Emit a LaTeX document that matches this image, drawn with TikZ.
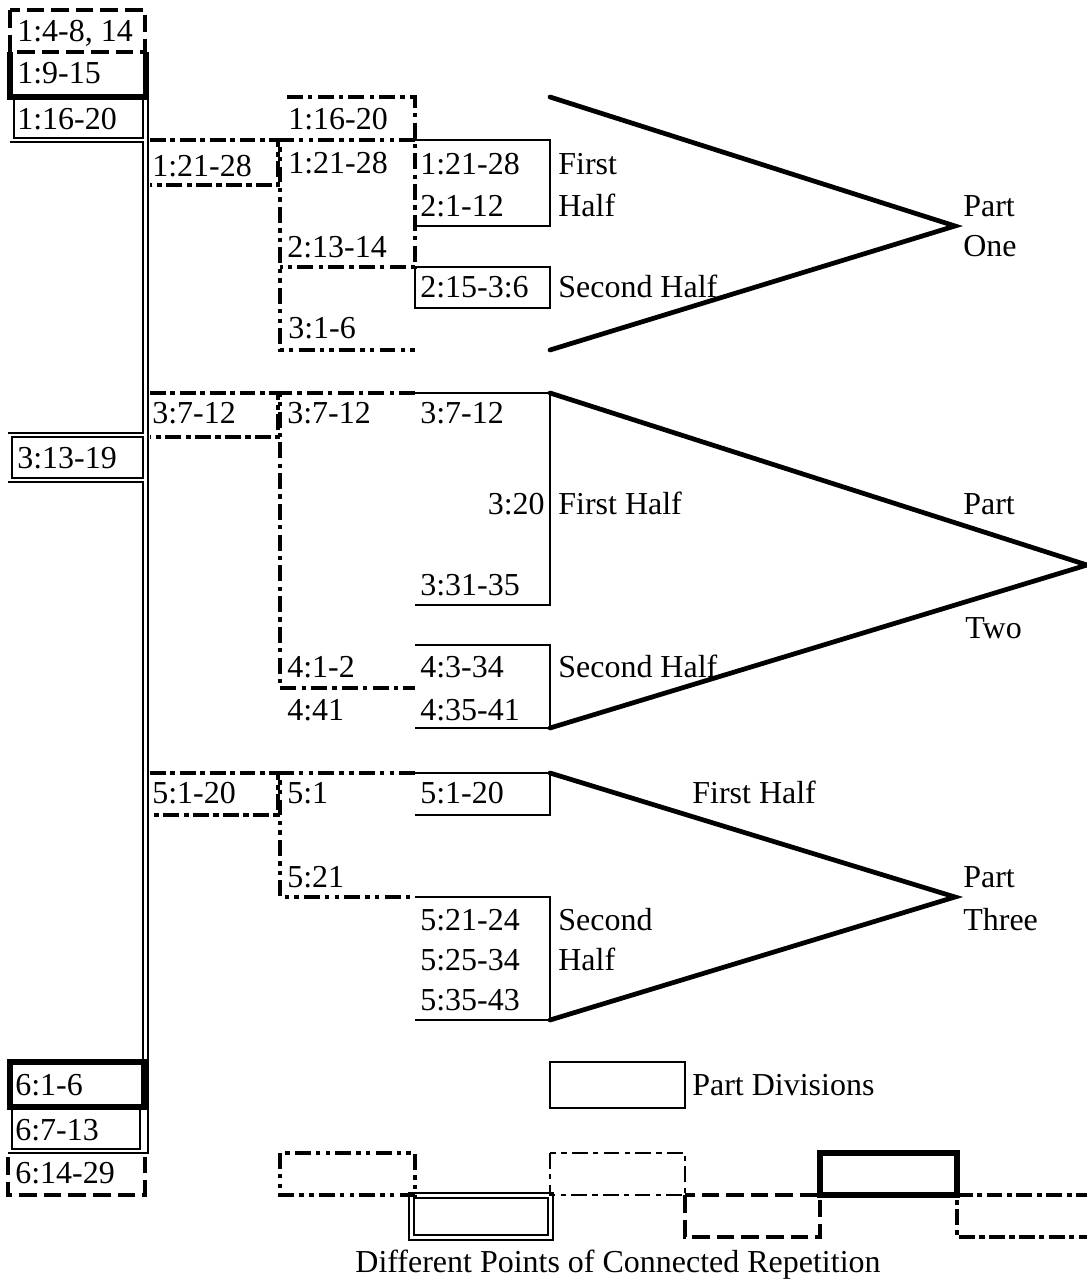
\documentclass[tikz,border=0pt]{standalone}
\usepackage{fontspec}
\setmainfont{Liberation Serif}
\usetikzlibrary{calc}
\newcommand{\versefont}{\fontsize{18.2pt}{21pt}\selectfont}
\tikzset{
  versetext/.style={font=\versefont, inner sep=0pt, anchor=base west},
  partline/.style={line width=1.1pt},
  doubleline/.style={line width=0.7pt},
  heavybox/.style={line width=3.4pt},
  conearm/.style={line width=2.7pt, line cap=round},
  dashbox/.style={line width=2.1pt, dash pattern=on 10pt off 4pt},
  slantdash/.style={line width=2.4pt, dash pattern=on 9pt off 2.5pt on 3pt off 2.5pt},
  dashdotheavy/.style={line width=2pt, dash pattern=on 9pt off 3pt on 2.5pt off 3pt},
  dashdotdot/.style={line width=2.2pt, dash pattern=on 9pt off 3pt on 2.5pt off 3pt on 2.5pt off 3pt},
  dashdotthin/.style={line width=0.9pt, dash pattern=on 9pt off 3pt on 3pt off 3pt},
}

\begin{document}
\begin{tikzpicture}[x=0.02cm, y=-0.02cm, line join=miter]
  \useasboundingbox (0,0) rectangle (1087,1283);

  % left column and double spine
  \draw[dashbox] (10,10) rectangle (145,52);
  \draw[heavybox] (10,52) -- (10,97) -- (146,97) -- (146,52);
  \draw[partline] (14,97) rectangle (143,138);
  \draw[doubleline] (10,142) -- (143,142) -- (143,433) -- (8,433);
  \draw[partline] (12,437) rectangle (143,478);
  \draw[doubleline] (8,482) -- (143,482) -- (143,1062);
  \draw[doubleline] (148,97) -- (148,1153) -- (8,1153);
  \draw[heavybox] (10,1062) rectangle (144,1107);
  \draw[partline] (12,1108) rectangle (140,1149);
  \draw[dashbox] (8,1157) -- (8,1195) -- (145,1195) -- (145,1157);

  \node[versetext] (v1a) at (17,42) {1:4-8, 14};
  \node[versetext] (v1b) at (17,84) {1:9-15};
  \node[versetext] (v1c) at (17,130) {1:16-20};
  \node[versetext] (v3a) at (17,468) {3:13-19};
  \node[versetext] (v6a) at (15,1095) {6:1-6};
  \node[versetext] (v6b) at (15,1140) {6:7-13};
  \node[versetext] (v6c) at (15,1183) {6:14-29};

  % part one
  \coordinate (p1top) at (550,97);
  \coordinate (p1apex) at (955,226);
  \coordinate (p1bot) at (550,350);
  \draw[slantdash] (150,140) -- (278,140) -- (278,185) -- (150,185);
  \draw[dashdotheavy] (287,97) -- (415,97) -- (415,267) -- (280,267);
  \draw[dashdotdot] (415,140) -- (280,140) -- (280,350) -- (415,350);
  \draw[partline] (415,140) -- (550,140) -- (550,226) -- (415,226);
  \draw[partline] (415,267) rectangle (550,308);
  \draw[conearm] (p1top) -- (p1apex) -- (p1bot);

  \node[versetext] (a1) at (152,177) {1:21-28};
  \node[versetext] (b1) at (288,130) {1:16-20};
  \node[versetext] (b2) at (288,174) {1:21-28};
  \node[versetext] (b3) at (287,258) {2:13-14};
  \node[versetext] (b4) at (288,338) {3:1-6};
  \node[versetext] (c1) at (420,175) {1:21-28};
  \node[versetext] (c2) at (420,217) {2:1-12};
  \node[versetext] (c3) at (420,298) {2:15-3:6};
  \node[versetext] (h1) at (558,175) {First};
  \node[versetext] (h2) at (558,217) {Half};
  \node[versetext] (h3) at (558,298) {Second Half};
  \node[versetext] (part1a) at (963,217) {Part};
  \node[versetext] (part1b) at (963,257) {One};

  % part two
  \coordinate (p2top) at (550,393);
  \coordinate (p2apex) at (1087,565);
  \coordinate (p2bot) at (550,728);
  \draw[slantdash] (150,393) -- (278,393) -- (278,437) -- (150,437);
  \draw[dashdotheavy] (415,393) -- (280,393) -- (280,688) -- (415,688);
  \draw[partline] (415,393) -- (550,393) -- (550,605) -- (415,605);
  \draw[partline] (415,645) -- (550,645) -- (550,728) -- (415,728);
  \draw[conearm] (p2top) -- (p2apex) -- (p2bot);

  \node[versetext] (a2) at (152,423) {3:7-12};
  \node[versetext] (d1) at (287,423) {3:7-12};
  \node[versetext] (d2) at (287,677) {4:1-2};
  \node[versetext] (d3) at (287,720) {4:41};
  \node[versetext] (e1) at (420,423) {3:7-12};
  \node[versetext, anchor=base east] (e2) at (545,514) {3:20};
  \node[versetext] (e3) at (420,595) {3:31-35};
  \node[versetext] (e4) at (420,677) {4:3-34};
  \node[versetext] (e5) at (420,720) {4:35-41};
  \node[versetext] (h4) at (558,514) {First Half};
  \node[versetext] (h5) at (558,677) {Second Half};
  \node[versetext] (part2a) at (963,514) {Part};
  \node[versetext] (part2b) at (965,638) {Two};

  % part three
  \coordinate (p3top) at (550,773);
  \coordinate (p3apex) at (955,897);
  \coordinate (p3bot) at (550,1020);
  \draw[slantdash] (150,773) -- (278,773) -- (278,815) -- (150,815);
  \draw[dashdotdot] (415,773) -- (280,773) -- (280,897) -- (415,897);
  \draw[partline] (415,773) -- (550,773) -- (550,815) -- (415,815);
  \draw[partline] (415,897) -- (550,897) -- (550,1020) -- (415,1020);
  \draw[conearm] (p3top) -- (p3apex) -- (p3bot);

  \node[versetext] (a3) at (152,803) {5:1-20};
  \node[versetext] (f1) at (287,803) {5:1};
  \node[versetext] (f2) at (287,887) {5:21};
  \node[versetext] (g1) at (420,803) {5:1-20};
  \node[versetext] (g2) at (420,930) {5:21-24};
  \node[versetext] (g3) at (420,970) {5:25-34};
  \node[versetext] (g4) at (420,1010) {5:35-43};
  \node[versetext] (h6) at (692,803) {First Half};
  \node[versetext] (h7) at (558,930) {Second};
  \node[versetext] (h8) at (558,970) {Half};
  \node[versetext] (part3a) at (963,887) {Part};
  \node[versetext] (part3b) at (963,930) {Three};

  % key
  \draw[partline, line width=1.6pt] (550,1062) rectangle (685,1108);
  \node[versetext] (keypart) at (692,1095) {Part Divisions};
  \draw[dashdotdot] (280,1153) rectangle (415,1195);
  \draw[doubleline] (409,1193) rectangle (553,1240);
  \draw[doubleline] (414,1198) rectangle (548,1235);
  \draw[dashdotthin] (550,1153) rectangle (685,1195);
  \draw[dashbox] (685,1195) rectangle (820,1237);
  \draw[heavybox] (820,1153) rectangle (957,1195);
  \draw[slantdash] (1092,1195) -- (957,1195) -- (957,1237) -- (1092,1237);
  \node[versetext, anchor=base] (keyrep) at (618,1272) {Different Points of Connected Repetition};
\end{tikzpicture}
\end{document}
